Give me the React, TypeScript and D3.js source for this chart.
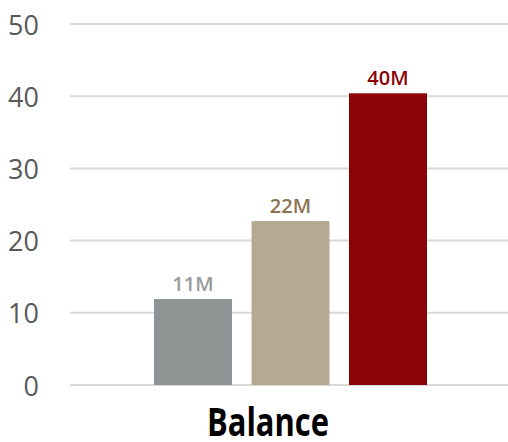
import React from "react";
import * as d3 from "d3";

const categories = ["A", "B", "C"];
const values = [11.9, 22.7, 40.4];
const valueLabels = ["11M", "22M", "40M"];
const yTicks = [0, 10, 20, 30, 40, 50];
const groupLabel = "Balance";

const barColors = ["#8f9394", "#b5a996", "#8b0306"];
const labelColors = ["#9a9a9a", "#8c7350", "#8b0306"];

export default function App() {
  const W = 508, H = 442;
  const y = d3.scaleLinear().domain([0, 50]).range([385, 24]);
  const x = d3.scaleBand<string>().domain(categories).range([134.5, 446.5]).paddingInner(0.2).paddingOuter(0.2);
  const font = "'Open Sans', 'Segoe UI', sans-serif";
  return (
    <svg width={W} height={H} style={{ position: "fixed", left: 0, top: 0, background: "#fff" }}>
      {yTicks.map((t) => (
        <g key={t}>
          <line x1={70} x2={508} y1={y(t)} y2={y(t)} stroke="#d9d9d9" strokeWidth={2} />
          <text x={39} y={y(t) + 10.5} textAnchor="end" fontFamily={font} fontSize={27} fill="#595959">
            {t}
          </text>
        </g>
      ))}
      {categories.map((c, i) => (
        <g key={c}>
          <rect x={x(c)} y={y(values[i])} width={x.bandwidth()} height={y(0) - y(values[i])} fill={barColors[i]} />
          <text
            x={(x(c) ?? 0) + x.bandwidth() / 2}
            y={y(values[i]) - 8.5}
            textAnchor="middle"
            fontFamily={font}
            fontWeight={600}
            fontSize={20}
            fill={labelColors[i]}
          >
            {valueLabels[i]}
          </text>
        </g>
      ))}
      <text
        x={207}
        y={436}
        fontFamily={font}
        fontWeight={700}
        fontSize={39}
        fill="#000"
        textLength={122}
        lengthAdjust="spacingAndGlyphs"
      >
        {groupLabel}
      </text>
    </svg>
  );
}
